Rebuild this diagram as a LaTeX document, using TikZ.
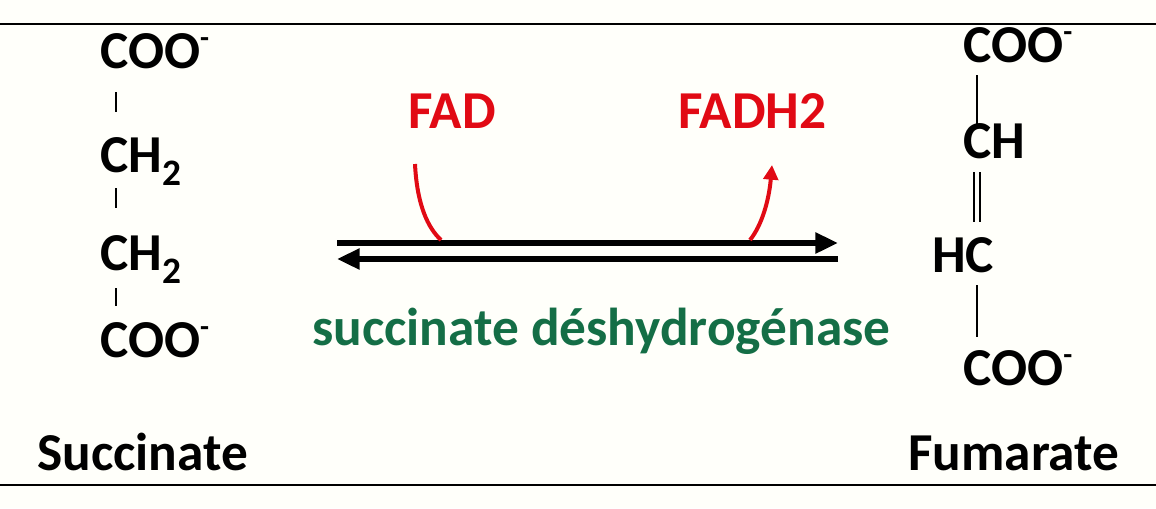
\documentclass[tikz,border=0pt]{standalone}
\usepackage{fontspec}
\setmainfont{Carlito}
\usetikzlibrary{arrows.meta}
\definecolor{enz}{RGB}{20,110,70}
\definecolor{rd}{RGB}{225,10,20}
\newcommand{\mn}{\raisebox{0.38em}{\fontsize{22}{22}\selectfont -}}
\begin{document}
\begin{tikzpicture}[x=0.75pt,y=-0.75pt,
  t/.style={anchor=base west,inner sep=0,font=\fontsize{40}{44}\selectfont\bfseries},
  bond/.style={line width=1.4pt},
  rx/.style={line width=4.8pt},
  red/.style={draw=rd,line width=3pt}]
\useasboundingbox (0,0) rectangle (1156,508);
\fill[white!98!yellow] (0,0) rectangle (1156,508);
\draw[line width=1.5pt] (0,24) -- (1156,24);
\draw[line width=1.5pt] (0,485) -- (1156,485);
% succinate
\node[t] (s1) at (100,68) {COO\mn};
\node[t] (s2) at (100,172) {CH\textsubscript{2}};
\node[t] (s3) at (100,270) {CH\textsubscript{2}};
\node[t] (s4) at (100,357) {COO\mn};
\node[t] (sn) at (37,470) {Succinate};
\draw[bond] (116,92) -- (116,112);
\draw[bond] (116,188) -- (116,208);
\draw[bond] (116,288) -- (116,306);
% fumarate
\node[t] (f1) at (963,62) {COO\mn};
\node[t] (f2) at (963,158) {CH};
\node[t] (f3) at (932,272) {HC};
\node[t] (f4) at (963,385) {COO\mn};
\node[t] (fn) at (908,470) {Fumarate};
\draw[bond] (977,75) -- (977,125);
\draw[bond] (974,172) -- (974,222);
\draw[bond] (980,172) -- (980,222);
\draw[bond] (977,285) -- (977,337);
% arrows
\coordinate (a1) at (337,243); \coordinate (a2) at (838,243);
\coordinate (b1) at (838,259); \coordinate (b2) at (337,259);
\draw[rx,-{Triangle[length=17pt,width=15pt]}] (a1) -- (a2);
\draw[rx,-{Triangle[length=17pt,width=15pt]}] (b1) -- (b2);
\node[t,text=rd] (fad) at (408,128) {FAD};
\node[t,text=rd] (fadh) at (678,128) {FADH2};
\coordinate (c1) at (415,164); \coordinate (c2) at (441,240);
\coordinate (d1) at (750,240); \coordinate (d2) at (772,165);
\draw[red] (c1) .. controls (417,205) and (428,228) .. (c2);
\draw[red,-{Triangle[length=11pt,width=11pt]}] (d1) .. controls (762,225) and (769,200) .. (d2);
\node[t,text=enz] (enz) at (312,345) {succinate déshydrogénase};
\end{tikzpicture}
\end{document}
